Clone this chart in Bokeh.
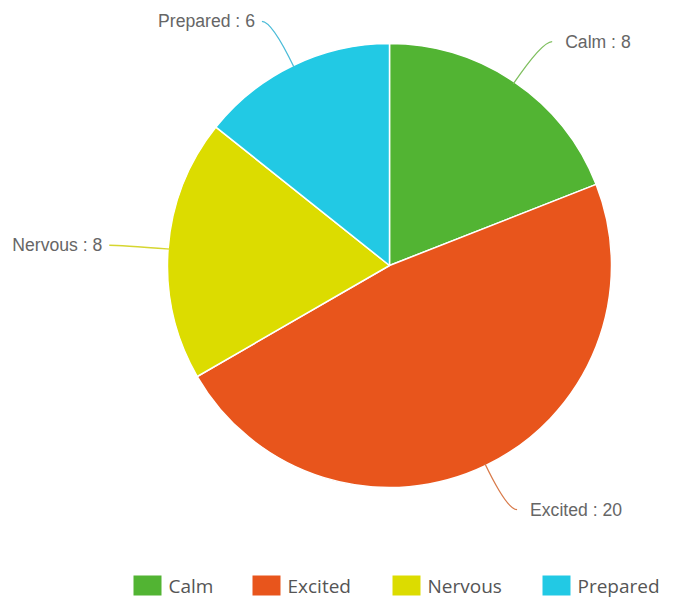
import math
from bokeh.plotting import figure
from bokeh.models import Range1d, ColumnDataSource
from bokeh.core.properties import value
from bokeh.embed import file_html
from bokeh.resources import INLINE

categories = ["Calm", "Excited", "Nervous", "Prepared"]
counts = [8, 20, 8, 6]
colors = ["#52b433", "#e8551c", "#dcdc00", "#22c9e4"]
line_colors = ["#7fbf5f", "#d87a4a", "#d6d630", "#4cbcd8"]

W, H = 673, 599
p = figure(width=W, height=H, output_backend="svg", toolbar_location=None,
           x_range=Range1d(0, W), y_range=Range1d(0, H),
           x_axis_type=None, y_axis_type=None, min_border=0)
p.outline_line_color = None
p.grid.visible = False

cx, cy, R = 389, 599 - 265, 222
total = sum(counts)
starts, ends, mids = [], [], []
cum = 0
for v in counts:
    a0 = math.pi / 2 - 2 * math.pi * cum / total
    a1 = math.pi / 2 - 2 * math.pi * (cum + v) / total
    starts.append(a0)
    ends.append(a1)
    mids.append((a0 + a1) / 2)
    cum += v

src = ColumnDataSource(dict(start=starts, end=ends, color=colors))
p.wedge(x=cx, y=cy, radius=R, start_angle="start", end_angle="end",
        direction="clock", fill_color="color", line_color="white",
        line_width=1.5, source=src)

# connector lines and labels
Rc = 271
for cat, v, m, lc in zip(categories, counts, mids, line_colors):
    sx, sy = cx + (R - 2) * math.cos(m), cy + (R - 2) * math.sin(m)
    kx, ky = cx + Rc * math.cos(m), cy + Rc * math.sin(m)
    sign = 1 if math.cos(m) >= 0 else -1
    ex, ey = kx + sign * 10, ky
    p.quadratic(x0=[sx], y0=[sy], x1=[ex], y1=[ey], cx=[kx], cy=[ky],
                line_color=lc, line_width=1.3)
    tx = ex + (13 if sign > 0 else -7)
    p.text(x=[tx], y=[ey], text=[f"{cat} : {v}"],
           text_align="left" if sign > 0 else "right", text_baseline="middle",
           text_font=value("Liberation Sans"), text_font_size="17.6px",
           text_color="#666666")

# legend
leg_x = [133, 252, 392, 542]
leg_y = 599 - 585
p.rect(x=[x + 14 for x in leg_x], y=[leg_y] * 4, width=28, height=20,
       fill_color=colors, line_color=None)
p.text(x=[x + 35 for x in leg_x], y=[leg_y] * 4, text=categories,
       text_align="left", text_baseline="middle",
       text_font=value("Open Sans"), text_font_size="19px",
       text_color="#555555")

open("out.html", "w").write(file_html(p, INLINE))
